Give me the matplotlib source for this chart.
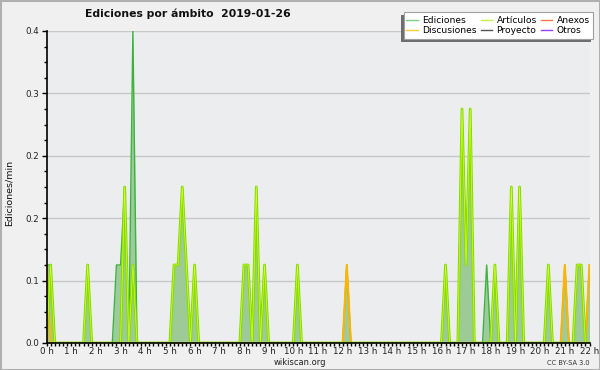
import numpy as np
import matplotlib
matplotlib.use("Agg")
import matplotlib.pyplot as plt
from matplotlib.patches import Rectangle
from matplotlib.lines import Line2D
from matplotlib.ticker import MultipleLocator, FixedLocator, FuncFormatter

# 10-minute bins from 0:00 to 22:00 (edits per minute)
ediciones = [
    0.1, 0.1, 0, 0, 0, 0,        # 0 h
    0, 0, 0, 0, 0.1, 0,          # 1 h
    0, 0, 0, 0, 0, 0.1,          # 2 h
    0.1, 0.2, 0, 0.4, 0, 0,      # 3 h
    0, 0, 0, 0, 0, 0,            # 4 h
    0, 0.1, 0.1, 0.2, 0.1, 0,    # 5 h
    0.1, 0, 0, 0, 0, 0,          # 6 h
    0, 0, 0, 0, 0, 0,            # 7 h
    0.1, 0.1, 0, 0.2, 0, 0.1,    # 8 h
    0, 0, 0, 0, 0, 0,            # 9 h
    0, 0.1, 0, 0, 0, 0,          # 10 h
    0, 0, 0, 0, 0, 0,            # 11 h
    0, 0.1, 0, 0, 0, 0,          # 12 h
    0, 0, 0, 0, 0, 0,            # 13 h
    0, 0, 0, 0, 0, 0,            # 14 h
    0, 0, 0, 0, 0, 0,            # 15 h
    0, 0.1, 0, 0, 0, 0.3,        # 16 h
    0.1, 0.3, 0, 0, 0, 0.1,      # 17 h
    0, 0.1, 0, 0, 0, 0.2,        # 18 h
    0, 0.2, 0, 0, 0, 0,          # 19 h
    0, 0, 0.1, 0, 0, 0,          # 20 h
    0.1, 0, 0, 0.1, 0.1, 0,      # 21 h
    0.1,                         # 22 h
]
articulos = [
    0, 0.1, 0, 0, 0, 0,
    0, 0, 0, 0, 0.1, 0,
    0, 0, 0, 0, 0, 0,
    0, 0.2, 0, 0.1, 0, 0,
    0, 0, 0, 0, 0, 0,
    0, 0.1, 0.1, 0.2, 0.1, 0,
    0.1, 0, 0, 0, 0, 0,
    0, 0, 0, 0, 0, 0,
    0.1, 0.1, 0, 0.2, 0, 0.1,
    0, 0, 0, 0, 0, 0,
    0, 0.1, 0, 0, 0, 0,
    0, 0, 0, 0, 0, 0,
    0, 0, 0, 0, 0, 0,
    0, 0, 0, 0, 0, 0,
    0, 0, 0, 0, 0, 0,
    0, 0, 0, 0, 0, 0,
    0, 0.1, 0, 0, 0, 0.3,
    0.1, 0.3, 0, 0, 0, 0,
    0, 0.1, 0, 0, 0, 0.2,
    0, 0.2, 0, 0, 0, 0,
    0, 0, 0.1, 0, 0, 0,
    0, 0, 0, 0.1, 0.1, 0,
    0,
]
discusiones = [0.0] * 133
discusiones[0] = 0.1
discusiones[73] = 0.1
discusiones[126] = 0.1
discusiones[132] = 0.1
anexos = [0.0] * 133
proyecto = [0.0] * 133
otros = [0.0] * 133

hour_labels = [f"{h} h" for h in range(23)]
title = "Ediciones por ámbito  2019-01-26"
ylabel = "Ediciones/min"
y_ticks = [0, 0.08, 0.16, 0.24, 0.32, 0.4]

series_names = ["Ediciones", "Discusiones", "Artículos", "Proyecto", "Anexos", "Otros"]
series_colors = ["#7fcf7f", "#ffcc33", "#c8ee44", "#555555", "#ff7744", "#9944ee"]

t = np.arange(len(ediciones)) / 6.0

W, H = 600, 370
fig = plt.figure(figsize=(6, 3.7), dpi=100, facecolor="#f0f0f0")
ax = fig.add_axes([46.5 / W, 1 - 343 / H, (589.5 - 46.5) / W, (343 - 31) / H])
ax.set_facecolor("#ecedef")

ax.fill_between(t, 0, ediciones, color="#9ecb9e", lw=0, zorder=1)
ax.fill_between(t, 0, articulos, color="#9ccb94", lw=0, alpha=0.6, zorder=1.1)
ax.plot(t, ediciones, color="#3cb43c", lw=1.0, zorder=2)
ax.plot(t, anexos, color="#ff7744", lw=0.8, zorder=1.5)
ax.plot(t, proyecto, color="#555555", lw=0.8, zorder=1.5)
ax.plot(t, otros, color="#9944ee", lw=0.8, zorder=1.5)
ax.plot(t, discusiones, color="#ffb400", lw=1.5, zorder=3)
ax.plot(t, articulos, color="#88dc00", lw=2.0, zorder=4)
ax.plot(t, articulos, color="#d4ff30", lw=0.5, zorder=4.1)

ax.set_xlim(0, 22)
ax.set_ylim(0, 0.4)
ax.yaxis.set_major_locator(FixedLocator(y_ticks))
ax.yaxis.set_minor_locator(MultipleLocator(0.02))
ax.yaxis.set_major_formatter(FuncFormatter(lambda v, p: f"{v:.1f}"))
ax.xaxis.set_major_locator(FixedLocator(range(23)))
ax.xaxis.set_minor_locator(MultipleLocator(1 / 6))
ax.set_xticklabels(hour_labels)
ax.grid(axis="y", which="major", color="#c8c8c8", lw=1.0, zorder=0)
ax.set_axisbelow(True)
for s in ["top", "right"]:
    ax.spines[s].set_visible(False)
for s in ["left", "bottom"]:
    ax.spines[s].set_color("black")
    ax.spines[s].set_linewidth(1.2)
    ax.spines[s].set_zorder(6)
ax.tick_params(which="both", labelsize=6.3, labelcolor="#222222", color="black", width=1,
               direction="out")
ax.tick_params(axis="y", which="major", length=3.6, pad=1.5)
ax.tick_params(axis="y", which="minor", length=2.2)
ax.tick_params(axis="x", which="major", length=2.4, pad=0.6)
ax.tick_params(axis="x", which="minor", length=2.4)

fig.text(9 / W, 1 - 193 / H, ylabel, rotation=90, ha="center", va="center",
         fontsize=6.8, color="#111111")
fig.text(188 / W, 1 - 14 / H, title, ha="center", va="center",
         fontsize=7.8, fontweight="bold", color="#111111")
fig.text(300 / W, 1 - 362.5 / H, "wikiscan.org", ha="center", va="center",
         fontsize=6.0, color="#222222")
fig.text(590 / W, 1 - 363 / H, "CC BY-SA 3.0", ha="right", va="center",
         fontsize=4.8, color="#333333")

# legend box with shadow
fig.patches.append(Rectangle((401 / W, 1 - 42 / H), 190 / W, 27 / H,
                             transform=fig.transFigure, facecolor="#6e6e6e",
                             edgecolor="none", zorder=10))
fig.patches.append(Rectangle((404 / W, 1 - 39 / H), 189 / W, 27 / H,
                             transform=fig.transFigure, facecolor="white",
                             edgecolor="#a0a0a0", lw=0.8, zorder=11))
handles = [Line2D([], [], color=c, lw=1.0) for c in series_colors]
leg = fig.legend(handles, series_names, ncol=3, frameon=False, loc="center",
                 bbox_to_anchor=(498 / W, 1 - 25.5 / H), fontsize=6.6,
                 handlelength=1.3, handletextpad=0.45, columnspacing=0.4,
                 labelspacing=0.05, borderpad=0.0)
leg.set_zorder(12)

fig.patches.append(Rectangle((0.5 / W, 0.5 / H), 599 / W, 369 / H,
                             transform=fig.transFigure, facecolor="none",
                             edgecolor="#b0b0b0", lw=1.5, zorder=20))

fig.savefig("out.png", dpi=100, facecolor=fig.get_facecolor())
